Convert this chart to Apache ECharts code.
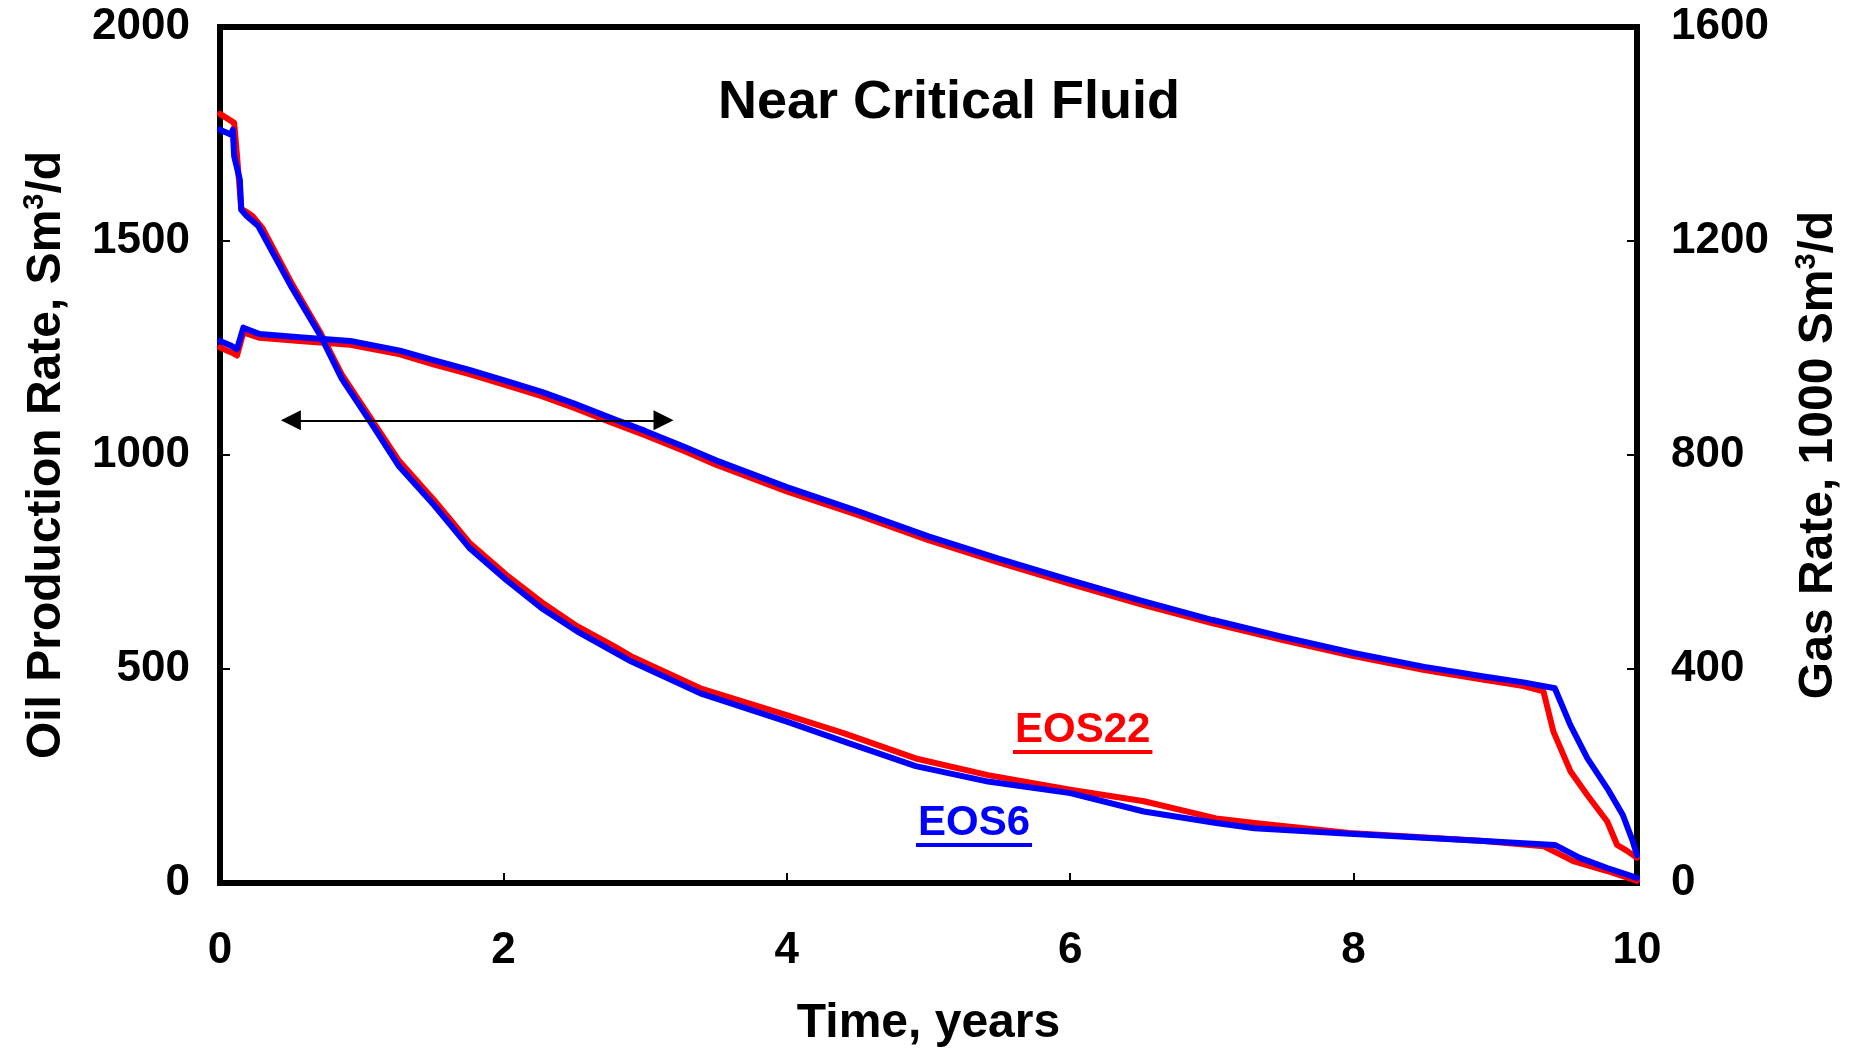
<!DOCTYPE html>
<html>
<head>
<meta charset="utf-8">
<script src="https://cdn.jsdelivr.net/npm/echarts@6/dist/echarts.min.js"></script>
<style>
html,body{margin:0;padding:0;background:#fff;}
#chart{width:1863px;height:1053px;}
</style>
</head>
<body>
<div id="chart"></div>
<script>
// ---- Data ----
var chartTitle = 'Near Critical Fluid';
var xTicks = [0, 2, 4, 6, 8, 10];
var oilTicks = [0, 500, 1000, 1500, 2000];
var gasTicks = [0, 400, 800, 1200, 1600];

// Oil production rate, Sm3/d (left axis)
var oilTime22 = [0, 0.10, 0.12, 0.15, 0.20, 0.23, 0.30, 0.50, 0.71, 0.86, 1.06, 1.26, 1.51, 1.76, 2.02, 2.27, 2.52, 2.77, 2.90, 3.39, 4.00, 4.40, 4.91, 5.42, 6.00, 6.52, 7.03, 7.30, 7.97, 8.92, 9.34, 9.55, 9.79, 10.0];
var oilEOS22  = [1797, 1776, 1700, 1575, 1565, 1558, 1530, 1405, 1285, 1188, 1088, 988, 895, 795, 720, 656, 600, 555, 530, 455, 392, 350, 291, 252, 218, 191, 151, 140, 117, 98, 86, 51, 28, 5];
var oilTime6  = [0, 0.08, 0.09, 0.10, 0.14, 0.15, 0.19, 0.27, 0.50, 0.71, 0.86, 1.06, 1.26, 1.51, 1.76, 2.02, 2.27, 2.52, 2.77, 2.90, 3.39, 4.00, 4.40, 4.91, 5.42, 6.00, 6.52, 7.03, 7.30, 7.97, 8.92, 9.42, 9.60, 9.79, 10.0];
var oilEOS6   = [1760, 1748, 1760, 1698, 1643, 1573, 1558, 1535, 1395, 1278, 1178, 1078, 975, 883, 783, 708, 642, 588, 542, 518, 443, 377, 331, 273, 237, 210, 167, 140, 128, 115, 98, 89, 58, 35, 12];

// Gas rate, 1000 Sm3/d (right axis)
var gasTime22 = [0, 0.094, 0.12, 0.165, 0.28, 0.56, 0.92, 1.27, 1.5, 1.76, 2.0, 2.27, 2.5, 2.77, 3.0, 3.28, 3.5, 4.0, 4.5, 5.0, 5.5, 6.0, 6.5, 7.0, 7.5, 8.0, 8.5, 8.92, 9.2, 9.34, 9.41, 9.53, 9.65, 9.79, 9.86, 9.93, 10.0];
var gasEOS22  = [1001, 990, 986, 1029, 1019, 1013, 1006, 988, 970, 951, 932, 910, 888, 860, 837, 807, 782, 732, 688, 641, 599, 559, 521, 486, 454, 424, 398, 380, 368, 358, 283, 209, 164, 115, 71, 60, 47];
var gasTime6  = [0, 0.08, 0.12, 0.165, 0.28, 0.56, 0.92, 1.27, 1.5, 1.76, 2.0, 2.27, 2.5, 2.77, 3.0, 3.28, 3.5, 4.0, 4.5, 5.0, 5.5, 6.0, 6.5, 7.0, 7.5, 8.0, 8.5, 8.92, 9.2, 9.42, 9.53, 9.65, 9.79, 9.9, 9.97, 10.0];
var gasEOS6   = [1013, 1004, 998, 1038, 1026, 1020, 1013, 995, 978, 959, 940, 918, 896, 868, 845, 815, 790, 740, 695, 648, 606, 566, 528, 492, 460, 430, 404, 386, 375, 364, 295, 233, 177, 127, 78, 52];

// Double-headed arrow (data coords of the arrowhead centres: years, oil rate)
var arrowFrom = [0.50, 1081];
var arrowTo   = [3.13, 1081];

var labelEOS22 = 'EOS22';
var labelEOS6 = 'EOS6';

// ---- Chart ----
var FONT = '"Liberation Sans", Arial, Helvetica, sans-serif';
function zip(xs, ys){ return xs.map(function(x,i){ return [x, ys[i]]; }); }

var chart = echarts.init(document.getElementById('chart'), null, {renderer:'canvas'});

var tickLabel = {fontFamily: FONT, fontWeight: 'bold', fontSize: 44, color: '#000'};
var nameRich = {
  a: {fontFamily: FONT, fontWeight: 'bold', fontSize: 48, color: '#000', lineHeight: 54},
  s: {fontFamily: FONT, fontWeight: 'bold', fontSize: 29, color: '#000', lineHeight: 30, verticalAlign: 'top'}
};
var LW = 6;

var option = {
  backgroundColor: '#fff',
  animation: false,
  grid: {left: 220, right: 226, top: 27, bottom: 168, show: true, borderColor: '#000', borderWidth: 6, containLabel: false},
  xAxis: {
    type: 'value', min: 0, max: 10, interval: 2,
    name: 'Time, years', nameLocation: 'middle', nameGap: 117,
    nameTextStyle: {fontFamily: FONT, fontWeight: 'bold', fontSize: 48, color: '#000'},
    axisLine: {show: true, lineStyle: {color: '#000', width: 6}},
    axisTick: {show: true, inside: true, length: 10, lineStyle: {color: '#000', width: 2}},
    axisLabel: Object.assign({margin: 46, formatter: function(v){ return xTicks.indexOf(v) >= 0 ? String(v) : ''; }}, tickLabel),
    splitLine: {show: false}
  },
  yAxis: [{
    type: 'value', min: 0, max: 2000, interval: 500, position: 'left',
    name: '{a|Oil Production Rate, Sm}{s|3}{a|/d}', nameLocation: 'middle', nameRotate: 90, nameGap: 146,
    nameTextStyle: {rich: nameRich},
    axisLine: {show: true, lineStyle: {color: '#000', width: 6}},
    axisTick: {show: true, inside: true, length: 10, lineStyle: {color: '#000', width: 2}},
    axisLabel: Object.assign({margin: 30, formatter: function(v){ return oilTicks.indexOf(v) >= 0 ? String(v) : ''; }}, tickLabel),
    splitLine: {show: false}
  }, {
    type: 'value', min: 0, max: 1600, interval: 400, position: 'right',
    name: '{a|Gas Rate, 1000 Sm}{s|3}{a|/d}', nameLocation: 'middle', nameRotate: 90, nameGap: 155,
    nameTextStyle: {rich: nameRich},
    axisLine: {show: true, lineStyle: {color: '#000', width: 6}},
    axisTick: {show: true, inside: true, length: 10, lineStyle: {color: '#000', width: 2}},
    axisLabel: Object.assign({margin: 34, formatter: function(v){ return gasTicks.indexOf(v) >= 0 ? String(v) : ''; }}, tickLabel),
    splitLine: {show: false}
  }],
  series: [
    {name: 'Oil EOS22', type: 'line', yAxisIndex: 0, data: zip(oilTime22, oilEOS22), showSymbol: false,
     lineStyle: {color: '#ff0000', width: LW, join: 'round', cap: 'round'}, itemStyle: {color: '#ff0000'}, z: 2,
     markLine: {silent: true, symbol: ['triangle', 'triangle'], symbolSize: [20, 20], label: {show: false},
       lineStyle: {color: '#000', width: 2, type: 'solid'}, emphasis: {disabled: true},
       data: [[{coord: arrowFrom}, {coord: arrowTo}]]}},
    {name: 'Gas EOS22', type: 'line', yAxisIndex: 1, data: zip(gasTime22, gasEOS22), showSymbol: false,
     lineStyle: {color: '#ff0000', width: LW, join: 'round', cap: 'round'}, itemStyle: {color: '#ff0000'}, z: 2},
    {name: 'Oil EOS6', type: 'line', yAxisIndex: 0, data: zip(oilTime6, oilEOS6), showSymbol: false,
     lineStyle: {color: '#0000ff', width: LW, join: 'round', cap: 'round'}, itemStyle: {color: '#0000ff'}, z: 3},
    {name: 'Gas EOS6', type: 'line', yAxisIndex: 1, data: zip(gasTime6, gasEOS6), showSymbol: false,
     lineStyle: {color: '#0000ff', width: LW, join: 'round', cap: 'round'}, itemStyle: {color: '#0000ff'}, z: 3}
  ]
};
chart.setOption(option);

// Title and annotations with underline
function measure(txt, font){ var c = document.createElement('canvas').getContext('2d'); c.font = font; return c.measureText(txt).width; }
var annFont = 'bold 42px ' + FONT;
function ann(txt, color, x, yMid, ulY){
  var w = measure(txt, annFont);
  return [
    {type: 'text', x: x, y: yMid, silent: true, z: 10,
     style: {text: txt, fill: color, font: annFont, textAlign: 'left', textVerticalAlign: 'middle'}},
    {type: 'rect', silent: true, z: 10, shape: {x: x - 2, y: ulY, width: w + 4, height: 4}, style: {fill: color}}
  ];
}
var g = [{type: 'text', x: 949, y: 103, silent: true, z: 10,
  style: {text: chartTitle, fill: '#000', font: 'bold 54px ' + FONT, textAlign: 'center', textVerticalAlign: 'middle'}}];
g = g.concat(ann(labelEOS22, '#ff0000', 1015, 730, 750));
g = g.concat(ann(labelEOS6, '#0000ff', 918, 823, 843));
chart.setOption({graphic: g});
</script>
</body>
</html>
